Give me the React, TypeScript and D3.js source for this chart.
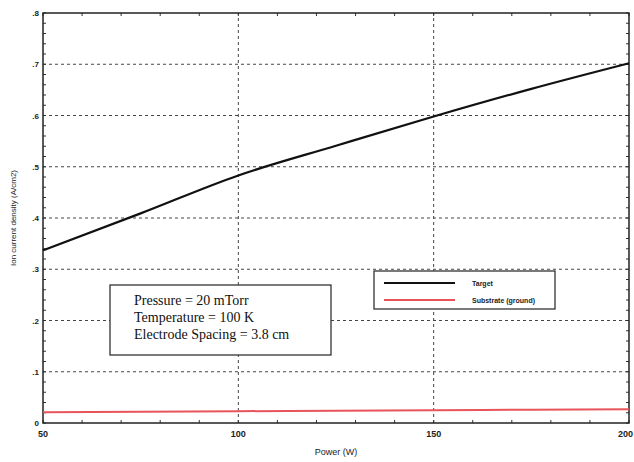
import React from 'react';
import * as d3 from 'd3';

// power (W) and ion current density
const power = [50, 75, 100, 125, 150, 175, 200];
const targetCurrent = [0.337, 0.409, 0.483, 0.541, 0.598, 0.652, 0.702];
const substrateCurrent = [0.021, 0.022, 0.023, 0.024, 0.025, 0.026, 0.027];

const xTicks = [50, 100, 150, 200];
const yTicks = [0, 0.1, 0.2, 0.3, 0.4, 0.5, 0.6, 0.7, 0.8];
const yTickLabels = ['0', '.1', '.2', '.3', '.4', '.5', '.6', '.7', '.8'];

const legendNames = ['Target', 'Substrate (ground)'];
const legendColors = ['#111', '#e8545a'];
const infoLines = ['Pressure = 20 mTorr', 'Temperature = 100 K', 'Electrode Spacing = 3.8 cm'];

const W = 634;
const H = 462;
const margin = { top: 13, right: 5, bottom: 39, left: 43 };

const App = () => {
  const x = d3
    .scaleLinear()
    .domain([50, 200])
    .range([margin.left, W - margin.right]);
  const y = d3
    .scaleLinear()
    .domain([0, 0.8])
    .range([H - margin.bottom, margin.top]);

  const line = d3
    .line<number>()
    .x((d, i) => x(power[i]))
    .y((d) => y(d))
    .curve(d3.curveMonotoneX);

  const minorY = d3.range(0, 0.801, 0.02);
  const minorX = d3.range(50, 200.1, 10);
  const x0 = x(50);
  const x1 = x(200);
  const y0 = y(0);
  const y1 = y(0.8);

  return (
    <svg
      width={W}
      height={H}
      style={{ position: 'absolute', left: 0, top: 0, background: '#fff' }}
      fontFamily="'Liberation Sans', Arial, sans-serif"
    >
      <rect x={0} y={0} width={W} height={H} fill="#fff" />

      {/* grid */}
      {yTicks.slice(1, -1).map((t) => (
        <line
          key={'gy' + t}
          x1={x0}
          x2={x1}
          y1={y(t)}
          y2={y(t)}
          stroke="#444"
          strokeWidth={1}
          strokeDasharray="3,3"
        />
      ))}
      {xTicks.slice(1, -1).map((t) => (
        <line
          key={'gx' + t}
          x1={x(t)}
          x2={x(t)}
          y1={y0}
          y2={y1}
          stroke="#444"
          strokeWidth={1}
          strokeDasharray="3,3"
        />
      ))}

      {/* minor ticks */}
      {minorY.map((t, i) => (
        <g key={'my' + i}>
          <line x1={x0} x2={x0 + 3} y1={y(t)} y2={y(t)} stroke="#333" />
          <line x1={x1} x2={x1 - 3} y1={y(t)} y2={y(t)} stroke="#333" />
        </g>
      ))}
      {minorX.map((t, i) => (
        <g key={'mx' + i}>
          <line x1={x(t)} x2={x(t)} y1={y0} y2={y0 - 3} stroke="#333" />
          <line x1={x(t)} x2={x(t)} y1={y1} y2={y1 + 3} stroke="#333" />
        </g>
      ))}

      {/* frame */}
      <rect x={x0} y={y1} width={x1 - x0} height={y0 - y1} fill="none" stroke="#222" strokeWidth={1.5} />

      {/* series */}
      <path d={line(substrateCurrent) || ''} fill="none" stroke={legendColors[1]} strokeWidth={2} />
      <path d={line(targetCurrent) || ''} fill="none" stroke={legendColors[0]} strokeWidth={2.2} />

      {/* tick labels */}
      {yTicks.map((t, i) => (
        <text
          key={'yl' + t}
          x={x0 - 4}
          y={y(t) + 3}
          textAnchor="end"
          fontSize={8}
          fontWeight="bold"
          fill="#222"
        >
          {yTickLabels[i]}
        </text>
      ))}
      {xTicks.map((t, i) => {
        const last = i === xTicks.length - 1;
        return (
          <text
            key={'xl' + t}
            x={last ? W - 1 : x(t)}
            y={y0 + 14}
            textAnchor={last ? 'end' : 'middle'}
            fontSize={9}
            fontWeight="bold"
            fill="#222"
          >
            {t}
          </text>
        );
      })}

      {/* axis titles */}
      <text x={(x0 + x1) / 2} y={y0 + 32} textAnchor="middle" fontSize={9} fill="#222">
        Power (W)
      </text>
      <text
        transform={`translate(16, ${(y0 + y1) / 2}) rotate(-90)`}
        textAnchor="middle"
        fontSize={8}
        fill="#222"
      >
        Ion current density (A/cm2)
      </text>

      {/* info box */}
      <rect x={110} y={285} width={221} height={70} fill="#fff" stroke="#333" strokeWidth={1.3} />
      {infoLines.map((s, i) => (
        <text
          key={s}
          x={134}
          y={305 + i * 17}
          fontSize={14}
          fontFamily="'Liberation Serif', 'Times New Roman', serif"
          fill="#111"
        >
          {s}
        </text>
      ))}

      {/* legend */}
      <rect x={374} y={271} width={181} height={38} fill="#fff" stroke="#333" strokeWidth={1.3} />
      {legendNames.map((name, i) => (
        <g key={name}>
          <line
            x1={384}
            x2={455}
            y1={283 + i * 17}
            y2={283 + i * 17}
            stroke={legendColors[i]}
            strokeWidth={2}
          />
          <text x={472} y={286 + i * 17} fontSize={7} fontWeight="bold" fill="#222">
            {name}
          </text>
        </g>
      ))}
    </svg>
  );
};

export default App;
